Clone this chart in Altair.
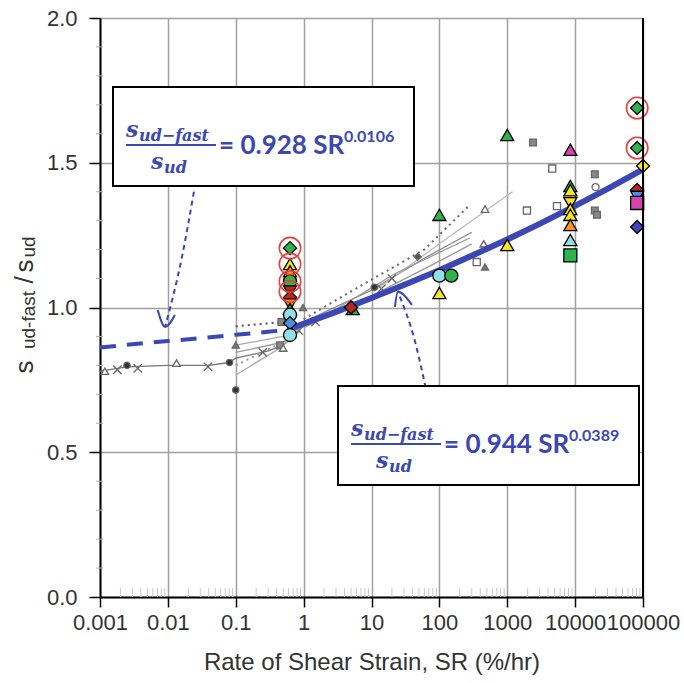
import altair as alt
import pandas as pd

# ---------------- data ----------------
X_TICKS = [0.001, 0.01, 0.1, 1, 10, 100, 1000, 10000, 100000]
Y_TICKS = [0.0, 0.5, 1.0, 1.5, 2.0]
Y_MINOR = [0.1, 0.2, 0.3, 0.4, 0.6, 0.7, 0.8, 0.9, 1.1, 1.2, 1.3, 1.4, 1.6, 1.7, 1.8, 1.9]
X_MINOR = [m * d for d in [0.001, 0.01, 0.1, 1, 10, 100, 1000, 10000] for m in [2, 3, 4, 5, 6, 7, 8, 9]]

GREEN, YELLOW, ORANGE, RED = "#2fb44b", "#f5e51c", "#f7931e", "#b8281e"
CYAN, LBLUE, DBLUE, MAGENTA = "#93dfe8", "#4d8fe0", "#3a4ab8", "#d843b0"
BLUE = "#3b47b3"

# coloured, black-edged markers
col_sr = [0.63, 0.63, 0.63, 0.63, 0.63, 0.63, 0.63, 0.63, 0.63, 0.63, 0.63,
          5.3, 5.0,
          100, 100, 150, 100,
          1000, 1000,
          8500, 8500, 8500, 8500, 8500, 8500, 8500, 8500, 8500,
          82000, 82000, 100000, 82000, 82000, 82000, 82000]
col_val = [1.205, 1.15, 1.125, 1.09, 1.055, 1.035, 1.01, 0.995, 0.975, 0.946, 0.905,
           0.995, 1.0,
           1.32, 1.11, 1.11, 1.05,
           1.596, 1.216,
           1.545, 1.42, 1.405, 1.36, 1.34, 1.32, 1.285, 1.233, 1.18,
           1.689, 1.551, 1.489, 1.406, 1.382, 1.361, 1.278]
col_shape = ["diamond", "triangle-up", "triangle-up", "circle", "triangle-down", "diamond",
             "triangle-down", "triangle-up", "circle", "diamond", "circle",
             "triangle-up", "diamond",
             "triangle-up", "circle", "circle", "triangle-up",
             "triangle-up", "triangle-up",
             "triangle-up", "triangle-up", "triangle-up", "triangle-down", "triangle-up",
             "triangle-up", "triangle-up", "triangle-up", "square",
             "diamond", "diamond", "diamond", "diamond", "triangle-down", "square", "diamond"]
col_fill = [GREEN, YELLOW, ORANGE, GREEN, RED, RED, ORANGE, GREEN, CYAN, LBLUE, CYAN,
            GREEN, RED,
            GREEN, CYAN, GREEN, YELLOW,
            GREEN, YELLOW,
            MAGENTA, GREEN, YELLOW, YELLOW, YELLOW, YELLOW, ORANGE, CYAN, GREEN,
            GREEN, GREEN, YELLOW, RED, LBLUE, MAGENTA, DBLUE]

# red highlight circles
ring_sr = [0.63, 0.63, 0.63, 0.63, 82000, 82000]
ring_val = [1.205, 1.15, 1.09, 1.055, 1.689, 1.551]

# grey background markers
gm_sr = [0.00118, 0.0018, 0.0025, 0.0036, 0.0134, 0.039, 0.081, 0.1, 0.1, 0.25, 0.45, 0.47,
         0.5, 0.98, 0.85, 1.5, 5.0, 11, 14, 20, 48, 355, 470, 470, 450,
         2400, 4600, 1950, 5400, 19500, 19500, 21000, 20000]
gm_val = [0.78, 0.785, 0.80, 0.79, 0.808, 0.795, 0.81, 0.715, 0.87, 0.845, 0.87, 0.95,
          0.86, 1.0, 0.92, 0.95, 1.01, 1.07, 1.065, 1.10, 1.175, 1.157, 1.14, 1.34, 1.22,
          1.57, 1.48, 1.335, 1.35, 1.46, 1.335, 1.32, 1.416]
gm_kind = ["otri", "x", "dot", "x", "otri", "x", "dot", "dot", "tri", "x", "sq", "sq",
           "otri", "tri", "x", "x", "ocir", "dot", "x", "x", "dia", "osq", "tri", "otri", "otri",
           "sq", "osq", "osq", "osq", "sq", "sq", "sq", "ocir"]

# grey thin lines (name, colour, dotted, SR values, ratio values)
gray_lines = [
    ("a", "#777777", False, [0.001, 0.0025, 0.01, 0.04, 0.08, 0.1, 0.3, 0.5, 0.8],
     [0.78, 0.795, 0.80, 0.80, 0.81, 0.825, 0.85, 0.87, 0.91]),
    ("b", "#aaaaaa", False, [0.1, 0.5, 0.9], [0.87, 0.90, 0.93]),
    ("c", "#aaaaaa", False, [0.1, 0.45, 0.9], [0.767, 0.86, 0.92]),
    ("d", "#999999", False, [0.1, 0.5, 0.8], [0.845, 0.88, 0.92]),
    ("e", "#555555", True, [0.1, 0.5], [0.935, 0.95]),
    ("f", "#999999", True, [0.1, 0.6], [0.80, 0.89]),
    ("g", "#999999", False, [1, 10, 100, 300], [0.93, 1.04, 1.16, 1.22]),
    ("h", "#888888", False, [1, 10, 60, 300], [0.95, 1.06, 1.17, 1.26]),
    ("i", "#666666", True, [1, 7.3, 60, 280], [0.96, 1.078, 1.2, 1.354]),
    ("j", "#bbbbbb", False, [10, 100, 1200], [1.05, 1.22, 1.40]),
    ("k", "#999999", False, [2, 23.5, 280], [0.97, 1.12, 1.24]),
]

# fitted curves
dash_sr = [0.001, 0.003, 0.01, 0.03, 0.1, 0.3, 0.7]
dash_val = [0.862, 0.873, 0.884, 0.894, 0.906, 0.916, 0.925]
fit_sr = [0.7, 1, 3, 10, 30, 100, 300, 1000, 3000, 10000, 30000, 100000]
fit_val = [0.931, 0.944, 0.985, 1.033, 1.078, 1.129, 1.179, 1.235, 1.289, 1.351, 1.410, 1.477]

# annotation arrows (SR, ratio)
arrow1_sr = [0.0242, 0.0160, 0.0091]
arrow1_val = [1.40, 1.171, 0.933]
head1_sr = [0.0071, 0.0091, 0.0127]
head1_val = [0.991, 0.933, 0.974]
arrow2_sr = [63, 43.6, 24.5]
arrow2_val = [0.722, 0.884, 1.054]
head2_sr = [22.1, 24.5, 39.4]
head2_val = [1.002, 1.054, 1.009]

# ---------------- chart ----------------
W, H = 543, 579


def xenc():
    return alt.X("sr:Q", scale=alt.Scale(type="log", domain=[0.001, 100000]),
                 axis=alt.Axis(values=X_TICKS, format="~g", title="Rate of Shear Strain, SR (%/hr)",
                               labelFont="Liberation Sans", labelFontSize=22, labelColor="#333333",
                               labelOverlap=False, labelPadding=5, labelFlush=False,
                               titleFont="Liberation Sans", titleFontSize=24, titleColor="#333333",
                               titleFontWeight="normal", titlePadding=17,
                               tickSize=10, tickColor="black", tickWidth=1.5,
                               domainColor="black", domainWidth=2,
                               grid=True, gridColor="#a0a0a0", gridWidth=1.5))


def yenc():
    return alt.Y("val:Q", scale=alt.Scale(domain=[0, 2]),
                 axis=alt.Axis(values=Y_TICKS, format=".1f", title=None,
                               labelFont="Liberation Sans", labelFontSize=22, labelColor="#333333",
                               labelPadding=12, labelFlush=False,
                               tickSize=11, tickColor="black", tickWidth=1.5,
                               domainColor="black", domainWidth=2,
                               grid=True, gridColor="#a0a0a0", gridWidth=1.5))


one = alt.Data(values=[{}])

colored = pd.DataFrame({"sr": col_sr, "val": col_val, "shape": col_shape, "fill": col_fill})
rings = pd.DataFrame({"sr": ring_sr, "val": ring_val})

kind_shape = {"otri": "triangle-up", "tri": "triangle-up", "x": "M-1,-1L1,1M-1,1L1,-1",
              "dot": "circle", "sq": "square", "osq": "square", "ocir": "circle", "dia": "diamond"}
kind_fill = {"otri": "white", "tri": "#777777", "x": "transparent", "dot": "#333333",
             "sq": "#888888", "osq": "white", "ocir": "white", "dia": "#555555"}
kind_size = {"otri": 55, "tri": 50, "x": 70, "dot": 40, "sq": 45, "osq": 50, "ocir": 50, "dia": 50}
gmark = pd.DataFrame({"sr": gm_sr, "val": gm_val,
                      "shape": [kind_shape[k] for k in gm_kind],
                      "fill": [kind_fill[k] for k in gm_kind],
                      "size": [kind_size[k] for k in gm_kind]})

rows = []
for name, colr, dotted, xs, ys in gray_lines:
    for i, (a, b) in enumerate(zip(xs, ys)):
        rows.append({"series": name, "col": colr, "dotted": dotted, "sr": a, "val": b, "o": i})
glines = pd.DataFrame(rows)


def path_df(xs, ys):
    return pd.DataFrame({"sr": xs, "val": ys, "o": list(range(len(xs)))})


layers = []

# minor ticks
layers.append(alt.Chart(pd.DataFrame({"sr": X_MINOR})).mark_rule(color="#c8c8c8", strokeWidth=1).encode(
    x=xenc(), y=alt.value(H - 9), y2=alt.value(H)))
layers.append(alt.Chart(pd.DataFrame({"val": Y_MINOR})).mark_rule(color="#b0b0b0", strokeWidth=1).encode(
    y=yenc(), x=alt.value(-4), x2=alt.value(3)))

# grey lines
layers.append(alt.Chart(glines[~glines["dotted"]]).mark_line(strokeWidth=1.3).encode(
    x=xenc(), y=yenc(), detail="series:N", order="o:Q", color=alt.Color("col:N", scale=None)))
layers.append(alt.Chart(glines[glines["dotted"]]).mark_line(strokeWidth=2, strokeDash=[2, 4]).encode(
    x=xenc(), y=yenc(), detail="series:N", order="o:Q", color=alt.Color("col:N", scale=None)))

# grey markers
layers.append(alt.Chart(gmark).mark_point(filled=False, strokeWidth=1.3, stroke="#666666", opacity=1).encode(
    x=xenc(), y=yenc(), shape=alt.Shape("shape:N", scale=None), fill=alt.Fill("fill:N", scale=None),
    size=alt.Size("size:Q", scale=None)))

# fitted curves
layers.append(alt.Chart(path_df(dash_sr, dash_val)).mark_line(color=BLUE, strokeWidth=4, strokeDash=[16, 11]).encode(
    x=xenc(), y=yenc(), order="o:Q"))
layers.append(alt.Chart(path_df(fit_sr, fit_val)).mark_line(color=BLUE, strokeWidth=6).encode(
    x=xenc(), y=yenc(), order="o:Q"))

# coloured markers and rings
layers.append(alt.Chart(colored).mark_point(filled=True, size=170, stroke="black", strokeWidth=1.3, opacity=1).encode(
    x=xenc(), y=yenc(), shape=alt.Shape("shape:N", scale=None), fill=alt.Fill("fill:N", scale=None)))
layers.append(alt.Chart(rings).mark_point(shape="circle", size=460, filled=False, color="#e8403a", strokeWidth=1.6, opacity=1).encode(
    x=xenc(), y=yenc()))

# arrows
for xs, ys, dash in [(arrow1_sr, arrow1_val, [5, 4]), (arrow2_sr, arrow2_val, [5, 4]),
                     (head1_sr, head1_val, None), (head2_sr, head2_val, None)]:
    kw = dict(color=BLUE, strokeWidth=2, interpolate="monotone")
    if dash:
        kw["strokeDash"] = dash
    layers.append(alt.Chart(path_df(xs, ys)).mark_line(**kw).encode(x=xenc(), y=yenc(), order="o:Q"))

# right frame line
layers.append(alt.Chart(one).mark_rule(color="black", strokeWidth=2).encode(
    x=alt.value(W), y=alt.value(0), y2=alt.value(H)))


def equation(bx, by, coef, expo):
    """bx, by: top-left of box in plot coordinates."""
    out = []
    out.append(alt.Chart(one).mark_rect(fill="white", stroke="black", strokeWidth=2).encode(
        x=alt.value(bx), x2=alt.value(bx + 301), y=alt.value(by), y2=alt.value(by + 99)))
    sfont = dict(font="DejaVu Serif", fontStyle="italic", fontWeight="bold", color=BLUE,
                 align="left", baseline="alphabetic")
    out.append(alt.Chart(one).mark_text(fontSize=22, **sfont).encode(
        x=alt.value(bx + 13), y=alt.value(by + 50), text=alt.value("s")))
    out.append(alt.Chart(one).mark_text(fontSize=16, **sfont).encode(
        x=alt.value(bx + 26), y=alt.value(by + 54), text=alt.value("ud\u2212fast")))
    out.append(alt.Chart(one).mark_rule(color=BLUE, strokeWidth=2).encode(
        x=alt.value(bx + 13), x2=alt.value(bx + 103), y=alt.value(by + 58)))
    out.append(alt.Chart(one).mark_text(fontSize=22, **sfont).encode(
        x=alt.value(bx + 38), y=alt.value(by + 82), text=alt.value("s")))
    out.append(alt.Chart(one).mark_text(fontSize=16, **sfont).encode(
        x=alt.value(bx + 51), y=alt.value(by + 86), text=alt.value("ud")))
    out.append(alt.Chart(one).mark_text(font="Lato", fontWeight="bold", fontSize=26, color=BLUE,
                                        align="left", baseline="alphabetic").encode(
        x=alt.value(bx + 106), y=alt.value(by + 67), text=alt.value("= " + coef + " SR")))
    out.append(alt.Chart(one).mark_text(font="Lato", fontWeight="bold", fontSize=16, color=BLUE,
                                        align="left", baseline="alphabetic").encode(
        x=alt.value(bx + 231), y=alt.value(by + 55), text=alt.value(expo)))
    return out


layers += equation(13, 69, "0.928", "0.0106")
layers += equation(238, 368, "0.944", "0.0389")

# y-axis title with subscripts (rotated pieces)
ytitle = [("s", 26, -67, 349), ("ud-fast", 19, -65, 302), ("/", 26, -67, 262),
          ("s", 26, -67, 248), ("ud", 19, -65, 229)]
for txt, fs, xx, yy in ytitle:
    layers.append(alt.Chart(one).mark_text(font="Liberation Sans", fontSize=fs, color="#333333", angle=270,
                                           align="center", baseline="alphabetic").encode(
        x=alt.value(xx), y=alt.value(yy), text=alt.value(txt)))

chart = alt.layer(*layers).properties(
    width=W, height=H,
    autosize=alt.AutoSizeParams(type="none"),
    padding={"left": 100, "top": 18, "right": 41, "bottom": 86},
    background="white",
).configure_view(stroke=None)

chart.save("out.html", embed_options={"renderer": "svg", "actions": False})
